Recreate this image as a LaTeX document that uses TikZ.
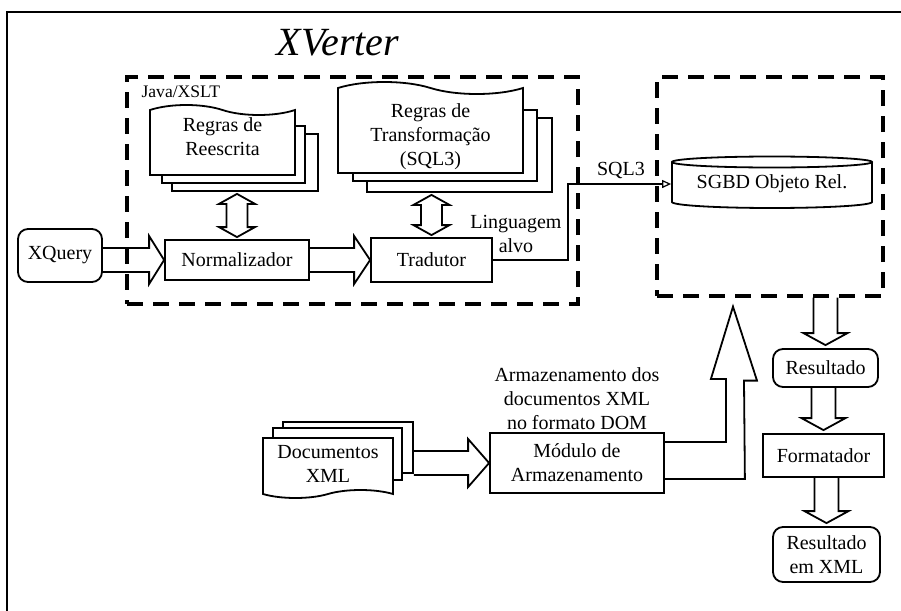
\documentclass[tikz,border=0pt]{standalone}
\usepackage{fontspec}
\setmainfont{Liberation Serif}
\usetikzlibrary{calc,arrows.meta,shapes.symbols}

\newcommand{\hblock}[3]{%
  \draw[block] ($(#1.east |- #2.west)+(0,-12)$) -- ($(#2.west)+(-#3,-12)$) -- ($(#2.west)+(-#3,-24)$)
    -- (#2.west) -- ($(#2.west)+(-#3,24)$) -- ($(#2.west)+(-#3,12)$) -- ($(#1.east |- #2.west)+(0,12)$);}
\newcommand{\vblock}[2]{%
  \coordinate (vt) at ($(#2.north)+(0,-3)$);
  \draw[block] ($(#2.north |- #1.south)+(-12,0)$) -- ($(vt)+(-12,-12)$) -- ($(vt)+(-22,-12)$) -- (vt)
    -- ($(vt)+(22,-12)$) -- ($(vt)+(12,-12)$) -- ($(#2.north |- #1.south)+(12,0)$);}
\newcommand{\vdblock}[2]{%
  \coordinate (vdt) at ($(#2.north |- #1.south)+(0,2)$);
  \coordinate (vdb) at ($(#2.north)+(0,-2)$);
  \draw[block] (vdt) -- ($(vdt)+(18,10)$) -- ($(vdt)+(10.5,10)$) -- ($(vdb)+(10.5,-10)$) -- ($(vdb)+(18,-10)$)
    -- (vdb) -- ($(vdb)+(-18,-10)$) -- ($(vdb)+(-10.5,-10)$) -- ($(vdt)+(-10.5,10)$) -- ($(vdt)+(-18,10)$) -- cycle;}

\begin{document}
\begin{tikzpicture}[x=0.5pt, y=-0.5pt, line width=0.9pt,
    box/.style={draw, inner sep=0pt, align=center},
    rbox/.style={box, rounded corners=5pt},
    page/.style={draw, fill=white, inner sep=0pt, align=center},
    dashbox/.style={draw, line width=1.6pt, dash pattern=on 8pt off 5pt, inner sep=0pt},
    block/.style={draw, line join=miter}]
    \useasboundingbox (0,0) rectangle (901,611);
    \draw (7,611) |- (901,12);

    \node (title) at (338,43) {\fontsize{20}{24}\selectfont\itshape XVerter};
    \node[anchor=west, font=\fontsize{8.8}{10}\selectfont] (java) at (134,92) {Java/XSLT};

    \node[page, minimum width=73pt, minimum height=28.5pt] (rr3) at (245,162.5) {};
    \node[page, minimum width=71.5pt, minimum height=28.5pt] (rr2) at (233.5,154.5) {};
    \node[page, tape, tape bend top=out and in, tape bend bottom=none, tape bend height=5pt,
          minimum width=72.5pt, minimum height=35pt] (rr) at (222.5,145) {};
    \node[align=center] (rrtext) at (222.5,137) {Regras de\\Reescrita};

    \node[page, minimum width=92.5pt, minimum height=37pt] (rt3) at (459.5,155) {};
    \node[page, minimum width=92pt, minimum height=35.5pt] (rt2) at (445,145.5) {};
    \node[page, tape, tape bend top=out and in, tape bend bottom=none, tape bend height=6pt,
          minimum width=92.5pt, minimum height=45.5pt] (rt) at (430.5,133.5) {};
    \node[align=center] (rttext) at (430.5,137) {Regras de\\Transformação\\(SQL3)};

    \node[rbox, minimum width=42pt, minimum height=26.5pt] (xq) at (60,255.5) {XQuery};
    \node[box, minimum width=72pt, minimum height=20pt] (nm) at (237,260) {Normalizador};
    \node[box, minimum width=60.5pt, minimum height=22pt] (td) at (431.5,260) {Tradutor};
    \node[align=center] (la) at (516,234) {Linguagem\\alvo};
    \node (sq) at (621,170) {SQL3};

    \node[inner sep=0pt, minimum width=100pt, minimum height=20pt] (obj) at (772,184) {SGBD Objeto Rel.};
    \draw ($(obj.center)+(0,-22)$) ellipse [x radius=50pt, y radius=2.75pt];
    \draw ($(obj.center)+(-100,-22)$) -- ($(obj.center)+(-100,18)$)
        arc [start angle=180, end angle=360, x radius=50pt, y radius=3pt] -- ($(obj.center)+(100,-22)$);

    \node[page, minimum width=65pt, minimum height=25.5pt] (dc3) at (348,447.5) {};
    \node[page, minimum width=64.5pt, minimum height=26pt] (dc2) at (337.5,454) {};
    \node[page, tape, tape bend top=none, tape bend bottom=in and out, tape bend height=4pt,
          minimum width=65pt, minimum height=30pt] (dc) at (328,464) {Documentos\\XML};

    \node[box, minimum width=87pt, minimum height=30pt] (md) at (577,463) {Módulo de\\Armazenamento};
    \node[align=center] (ad) at (577,399) {Armazenamento dos\\documentos XML\\no formato DOM};

    \node[rbox, minimum width=52.5pt, minimum height=19pt] (rs) at (825.5,368) {Resultado};
    \node[box, minimum width=60.5pt, minimum height=21.5pt] (fm) at (823.5,455.5) {Formatador};
    \node[rbox, minimum width=53.5pt, minimum height=27.5pt] (rx) at (826.5,554.5) {Resultado\\em XML};

    \node[dashbox, minimum width=225.5pt, minimum height=113.5pt] (xv) at (352.5,190.5) {};
    \node[dashbox, minimum width=113pt, minimum height=109.5pt] (sg) at (770,186.5) {};

    \hblock{xq}{nm}{15}
    \hblock{nm}{td}{16}
    \hblock{dc3}{md}{21}
    \vdblock{rr3}{nm}
    \vdblock{rt3}{td}
    \vblock{sg}{rs}
    \vblock{rs}{fm}
    \vblock{fm}{rx}
    \draw[block] ($(md.east)+(0,-21)$) -- ++(61,0) -- ++(0,-63) -- ++(-15,0) -- ($(733,0 |- sg.south)+(0,9)$)
        -- ++(24,74) -- ++(-13,0) -- ($(md.east)+(80,16)$) -- ($(md.east)+(0,16)$);
    \draw[-{Triangle[open,length=4.5pt,width=4pt]}, line width=0.6pt] (td.east) -- ++(75,0) |- (obj.west);
\end{tikzpicture}
\end{document}
